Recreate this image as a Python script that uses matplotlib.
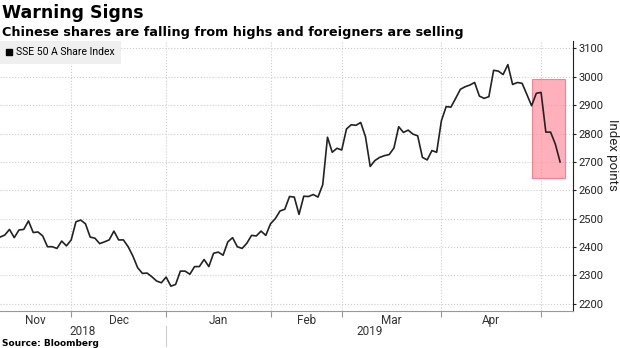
import matplotlib.pyplot as plt
from matplotlib.lines import Line2D
from matplotlib.patches import Rectangle
from matplotlib.transforms import blended_transform_factory

# SSE 50 A Share Index, one value per trading day (12 Nov 2018 .. 8 May 2019)
index_values = [
    2435, 2442, 2462, 2433, 2460, 2462, 2492, 2451, 2453, 2439,
    2401, 2401, 2395, 2421, 2404, 2425, 2489, 2495, 2482, 2435,
    2431, 2412, 2418, 2425, 2456, 2425, 2425, 2401, 2368, 2327,
    2307, 2308, 2295, 2280, 2274, 2294, 2262, 2268, 2315, 2315,
    2304, 2331, 2331, 2356, 2331, 2378, 2382, 2371, 2418, 2433,
    2401, 2395, 2413, 2441, 2439, 2456, 2441, 2482, 2500, 2527,
    2533, 2578, 2576, 2515, 2579, 2578, 2585, 2576, 2620, 2787,
    2734, 2748, 2742, 2816, 2831, 2829, 2839, 2789, 2684, 2705,
    2716, 2722, 2726, 2749, 2824, 2804, 2812, 2798, 2792, 2716,
    2707, 2740, 2734, 2845, 2895, 2893, 2924, 2956, 2965, 2971,
    2980, 2932, 2924, 2930, 3023, 3020, 3008, 3043, 2973, 2980,
    2977, 2938, 2898, 2942, 2945, 2805, 2805, 2763, 2700,
]
days = list(range(len(index_values)))

# trading-day index where each month starts (Dec .. May)
month_starts = [15, 35, 57, 72, 93, 114]
month_names = ["Nov", "Dec", "Jan", "Feb", "Mar", "Apr"]
month_edges = [0] + month_starts
year_names = ["2018", "2019"]
year_edges = [0, 35, 120.7]

y_ticks = list(range(2200, 3101, 100))

# highlighted sell-off box: day range and index range
box_days = (112, 119)
box_values = (2642, 2992)

plt.rcParams['font.family'] = ['Roboto', 'DejaVu Sans']
bold_font = ['DejaVu Sans']

fig = plt.figure(figsize=(6.2, 3.48), dpi=100)
ax = fig.add_axes([0.0, 0.106, 0.924, 0.776])

ax.plot(days, index_values, color="#222222", linewidth=1.2, zorder=3)

ax.add_patch(Rectangle((box_days[0], box_values[0]),
                       box_days[1] - box_days[0], box_values[1] - box_values[0],
                       facecolor="#ff96a4", alpha=0.75, edgecolor="#f26478",
                       linewidth=0.8, zorder=2))

ax.set_xlim(0, 120.7)
ax.set_ylim(2174, 3126)

ax.yaxis.tick_right()
ax.set_yticks(y_ticks)
ax.tick_params(axis="y", direction="out", length=2.5, width=0.8, labelsize=8,
               pad=1.5, colors="#222222")

ax.set_xticks(month_starts)
ax.set_xticklabels([])
mids = [(month_edges[i] + month_edges[i + 1]) / 2 for i in range(len(month_names))]
ax.set_xticks(mids, minor=True)
ax.set_xticklabels(month_names, minor=True, fontsize=8.5)
ax.tick_params(axis="x", which="major", direction="out", length=4, color="#999999")
ax.tick_params(axis="x", which="minor", length=0, pad=2, colors="#333333")

ax.grid(True, which="major", linestyle=":", color="#cccccc", linewidth=0.8)

for s in ["top", "left"]:
    ax.spines[s].set_visible(False)
ax.spines["bottom"].set_color("#999999")
ax.spines["right"].set_color("#222222")

# year row under the month labels
tr = blended_transform_factory(ax.transData, ax.transAxes)
for i, name in enumerate(year_names):
    ax.text((year_edges[i] + year_edges[i + 1]) / 2, -0.077, name, transform=tr,
            ha="center", va="center", fontsize=8.5, color="#333333")
ax.add_line(Line2D([year_edges[1], year_edges[1]], [-0.056, -0.128], transform=tr,
                   color="#cccccc", linewidth=0.8, clip_on=False))

handle = Line2D([], [], marker="s", color="black", linestyle="None", markersize=5)
leg = ax.legend([handle], ["SSE 50 A Share Index"], loc="upper left",
                bbox_to_anchor=(0, 1), borderaxespad=0, fontsize=7.5,
                frameon=True, fancybox=False, handlelength=0.6, handletextpad=0.3,
                borderpad=0.6)
leg.get_frame().set_facecolor("#efefef")
leg.get_frame().set_edgecolor("none")
leg.get_frame().set_alpha(1)

fig.text(613 / 620, 1 - 155 / 348, "Index points", rotation=270,
         ha="center", va="center", fontsize=9.5, color="#222222")

fig.text(0.003, 0.962, "Warning Signs", fontsize=12.5, fontweight="bold",
         ha="left", va="center", family=bold_font)
fig.text(0.003, 0.908, "Chinese shares are falling from highs and foreigners are selling",
         fontsize=9.2, fontweight="bold", ha="left", va="center", family=bold_font)
fig.text(0.003, 0.001, "Source: Bloomberg", fontsize=6.5, fontweight="bold",
         ha="left", va="bottom", family=bold_font)

fig.savefig("out.png", dpi=100)
